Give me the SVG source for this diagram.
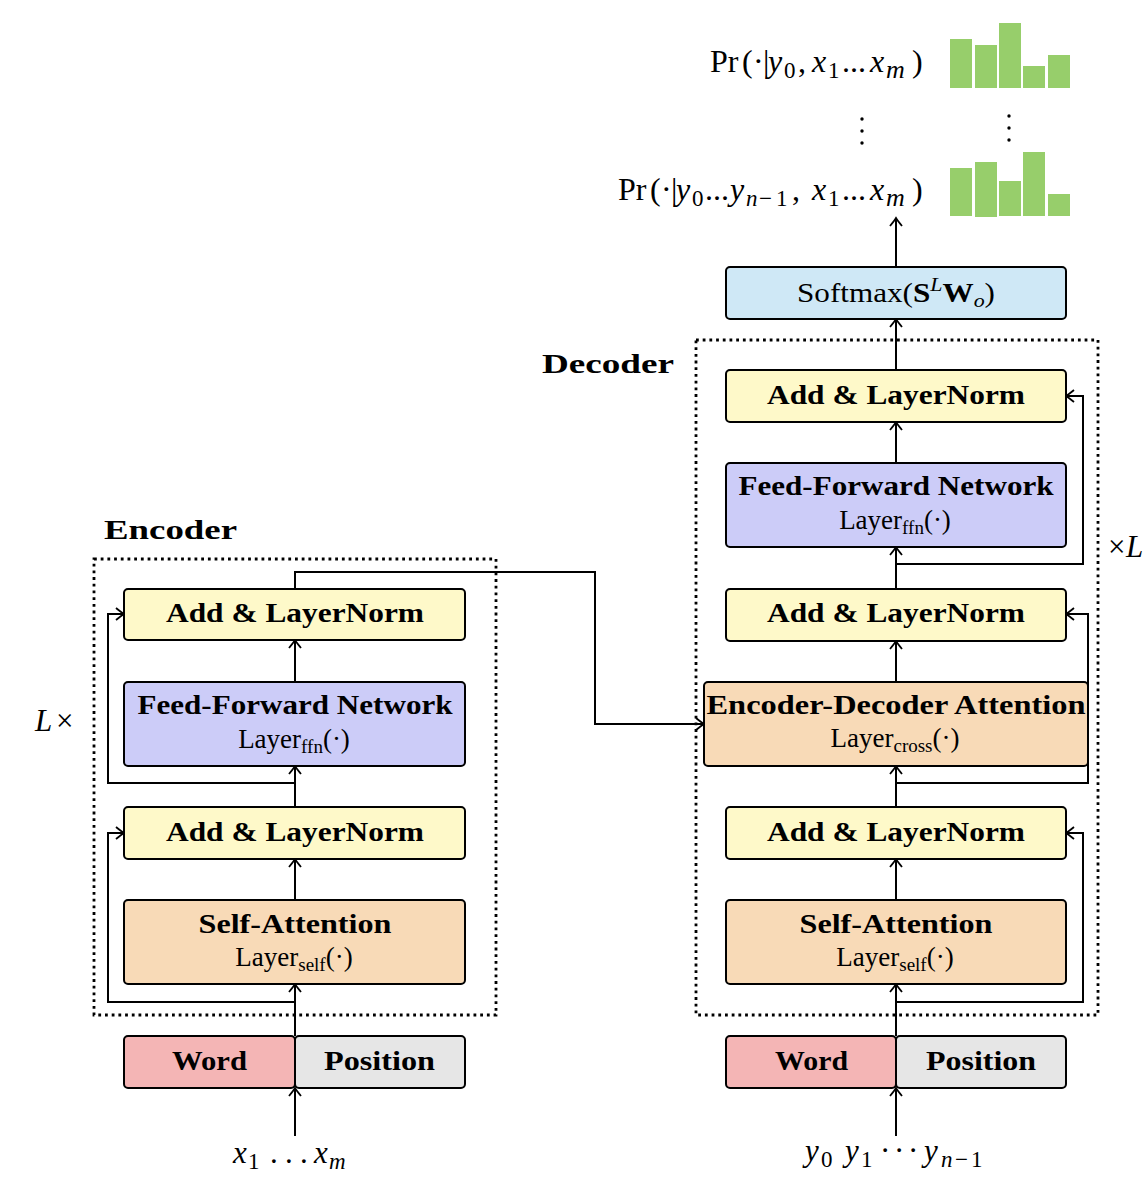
<svg xmlns="http://www.w3.org/2000/svg" width="1148" height="1198" viewBox="0 0 1148 1198">
<style>
.bx{stroke:#000;stroke-width:2}
.ln{fill:#FEF9C9}
.ffn{fill:#CCCCF8}
.att{fill:#F8DAB7}
.sm{fill:#CFE8F6}
.wd{fill:#F4B5B5}
.ps{fill:#E6E6E6}
.bar{fill:#97CE6B}
.c{fill:none;stroke:#000;stroke-width:2}
.a{marker-end:url(#ah)}
.dt{fill:none;stroke:#000;stroke-width:2.8;stroke-dasharray:2.8 3.9}
text{font-family:"Liberation Serif","DejaVu Serif",serif;fill:#000}
.b{font-weight:bold;font-size:27px;text-anchor:middle}
.r{font-size:27px;text-anchor:middle}
.m{font-size:32px}
.mi{font-size:31px}
.i{font-style:italic}
.s{font-size:23px}
.sm2{font-size:26px}
.ss{font-size:19px}
.lbl{font-weight:bold;font-size:27px}
</style>
<defs>
<marker id="ah" viewBox="-9 -7 11 14" refX="0" refY="0" markerWidth="11" markerHeight="14" markerUnits="userSpaceOnUse" orient="auto">
<path d="M-8,-6 Q-2.5,-1.5 0,0 Q-2.5,1.5 -8,6" fill="none" stroke="#000" stroke-width="1.8"/>
</marker>
</defs>

<!-- containers -->
<g id="encoder-frame">
<rect class="dt" x="94" y="559" width="402" height="456"/>
<text class="lbl" x="104" y="539" textLength="133" lengthAdjust="spacingAndGlyphs">Encoder</text>
<text class="mi" y="731"><tspan class="i" x="35">L</tspan><tspan x="56">×</tspan></text>
</g>
<g id="decoder-frame">
<rect class="dt" x="696" y="340" width="402" height="675"/>
<text class="lbl" x="542" y="373" textLength="132" lengthAdjust="spacingAndGlyphs">Decoder</text>
<text class="mi" y="557"><tspan x="1108">×</tspan><tspan class="i" x="1126">L</tspan></text>
</g>

<!-- connectors -->
<g id="connectors">
<path class="c a" d="M295,1136 V1088"/>
<path class="c a" d="M295,1036 V984"/>
<path class="c a" d="M295,1002 H108 V833 H124"/>
<path class="c a" d="M295,900 V859"/>
<path class="c a" d="M295,807 V766"/>
<path class="c a" d="M295,783 H108 V614 H124"/>
<path class="c a" d="M295,682 V640"/>
<path class="c a" d="M295,589 V572 H595 V724 H704"/>

<path class="c a" d="M896,1136 V1088"/>
<path class="c a" d="M896,1036 V984"/>
<path class="c a" d="M896,1002 H1083 V833 H1066"/>
<path class="c a" d="M896,900 V859"/>
<path class="c a" d="M896,807 V766"/>
<path class="c a" d="M896,783 H1088 V614 H1066"/>
<path class="c a" d="M896,682 V641"/>
<path class="c a" d="M896,589 V547"/>
<path class="c a" d="M896,564 H1083 V396 H1066"/>
<path class="c a" d="M896,463 V422"/>
<path class="c a" d="M896,370 V319"/>
<path class="c a" d="M896,267 V218"/>
</g>

<!-- encoder nodes -->
<g id="enc-addnorm-2">
<rect class="bx ln" x="124" y="589" width="341" height="51" rx="4"/>
<text class="b" x="295" y="622" textLength="258" lengthAdjust="spacingAndGlyphs">Add &amp; LayerNorm</text>
</g>
<g id="enc-ffn">
<rect class="bx ffn" x="124" y="682" width="341" height="84" rx="4"/>
<text class="b" x="295" y="714" textLength="315" lengthAdjust="spacingAndGlyphs">Feed-Forward Network</text>
<text class="r" x="294" y="748">Layer<tspan class="ss" dy="5">ffn</tspan><tspan dy="-5">(·)</tspan></text>
</g>
<g id="enc-addnorm-1">
<rect class="bx ln" x="124" y="807" width="341" height="52" rx="4"/>
<text class="b" x="295" y="841" textLength="258" lengthAdjust="spacingAndGlyphs">Add &amp; LayerNorm</text>
</g>
<g id="enc-self-attention">
<rect class="bx att" x="124" y="900" width="341" height="84" rx="4"/>
<text class="b" x="295" y="933" textLength="193" lengthAdjust="spacingAndGlyphs">Self-Attention</text>
<text class="r" x="294" y="966">Layer<tspan class="ss" dy="5">self</tspan><tspan dy="-5">(·)</tspan></text>
</g>
<g id="enc-embedding">
<rect class="bx wd" x="124" y="1036" width="171" height="52" rx="4"/>
<rect class="bx ps" x="295" y="1036" width="170" height="52" rx="4"/>
<text class="b" x="209.5" y="1070" textLength="75" lengthAdjust="spacingAndGlyphs">Word</text>
<text class="b" x="379.5" y="1070" textLength="111" lengthAdjust="spacingAndGlyphs">Position</text>
</g>
<g id="enc-input">
<text class="mi" y="1163"><tspan class="i" x="233">x</tspan><tspan class="s" x="248" dy="6">1</tspan><tspan x="270 285 300" dy="-6">...</tspan><tspan class="i" x="314">x</tspan><tspan class="s i" x="329" dy="6">m</tspan></text>
</g>

<!-- decoder nodes -->
<g id="dec-softmax">
<rect class="bx sm" x="726" y="267" width="340" height="52" rx="4"/>
<text class="r" x="896" y="302" textLength="198" lengthAdjust="spacingAndGlyphs">Softmax(<tspan font-weight="bold">S</tspan><tspan class="ss i" dy="-11">L</tspan><tspan font-weight="bold" dy="11">W</tspan><tspan class="ss i" dy="5">o</tspan><tspan dy="-5">)</tspan></text>
</g>
<g id="dec-addnorm-3">
<rect class="bx ln" x="726" y="370" width="340" height="52" rx="4"/>
<text class="b" x="896" y="404" textLength="258" lengthAdjust="spacingAndGlyphs">Add &amp; LayerNorm</text>
</g>
<g id="dec-ffn">
<rect class="bx ffn" x="726" y="463" width="340" height="84" rx="4"/>
<text class="b" x="896" y="495" textLength="315" lengthAdjust="spacingAndGlyphs">Feed-Forward Network</text>
<text class="r" x="895" y="529">Layer<tspan class="ss" dy="5">ffn</tspan><tspan dy="-5">(·)</tspan></text>
</g>
<g id="dec-addnorm-2">
<rect class="bx ln" x="726" y="589" width="340" height="52" rx="4"/>
<text class="b" x="896" y="622" textLength="258" lengthAdjust="spacingAndGlyphs">Add &amp; LayerNorm</text>
</g>
<g id="dec-cross-attention">
<rect class="bx att" x="704" y="682" width="384" height="84" rx="4"/>
<text class="b" x="896" y="714" textLength="379" lengthAdjust="spacingAndGlyphs">Encoder-Decoder Attention</text>
<text class="r" x="895" y="747">Layer<tspan class="ss" dy="5">cross</tspan><tspan dy="-5">(·)</tspan></text>
</g>
<g id="dec-addnorm-1">
<rect class="bx ln" x="726" y="807" width="340" height="52" rx="4"/>
<text class="b" x="896" y="841" textLength="258" lengthAdjust="spacingAndGlyphs">Add &amp; LayerNorm</text>
</g>
<g id="dec-self-attention">
<rect class="bx att" x="726" y="900" width="340" height="84" rx="4"/>
<text class="b" x="896" y="933" textLength="193" lengthAdjust="spacingAndGlyphs">Self-Attention</text>
<text class="r" x="895" y="966">Layer<tspan class="ss" dy="5">self</tspan><tspan dy="-5">(·)</tspan></text>
</g>
<g id="dec-embedding">
<rect class="bx wd" x="726" y="1036" width="170" height="52" rx="4"/>
<rect class="bx ps" x="896" y="1036" width="170" height="52" rx="4"/>
<text class="b" x="811.5" y="1070" textLength="73" lengthAdjust="spacingAndGlyphs">Word</text>
<text class="b" x="981" y="1070" textLength="110" lengthAdjust="spacingAndGlyphs">Position</text>
</g>
<g id="dec-input">
<text class="mi" y="1161"><tspan class="i" x="805">y</tspan><tspan class="s" x="821" dy="6">0</tspan><tspan class="i" x="845" dy="-6">y</tspan><tspan class="s" x="861" dy="6">1</tspan><tspan x="880 894 908" dy="-6">···</tspan><tspan class="i" x="924">y</tspan><tspan class="s i" x="941" dy="6">n</tspan><tspan class="s" x="955">−</tspan><tspan class="s" x="971">1</tspan></text>
</g>

<!-- output distributions -->
<g id="output-first">
<text class="m" y="72"><tspan x="710">Pr</tspan><tspan x="742">(</tspan><tspan x="753">·</tspan><tspan x="763">|</tspan><tspan class="i" x="768">y</tspan><tspan class="s" x="784" dy="6">0</tspan><tspan x="798" dy="-6">,</tspan><tspan class="i" x="812">x</tspan><tspan class="s" x="828" dy="6">1</tspan><tspan x="842" dy="-6">...</tspan><tspan class="i" x="870">x</tspan><tspan class="sm2 i" x="886" dy="6">m</tspan><tspan x="912" dy="-6">)</tspan></text>
<rect class="bar" x="950" y="39" width="22" height="49"/>
<rect class="bar" x="975" y="45" width="22" height="43"/>
<rect class="bar" x="999" y="23" width="22" height="65"/>
<rect class="bar" x="1023" y="66" width="22" height="22"/>
<rect class="bar" x="1048" y="55" width="22" height="33"/>
</g>
<g id="output-ellipsis">
<circle cx="862" cy="119" r="1.7"/>
<circle cx="862" cy="131" r="1.7"/>
<circle cx="862" cy="143" r="1.7"/>
<circle cx="1009" cy="116" r="1.7"/>
<circle cx="1009" cy="128" r="1.7"/>
<circle cx="1009" cy="140" r="1.7"/>
</g>
<g id="output-last">
<text class="m" y="200"><tspan x="618">Pr</tspan><tspan x="650">(</tspan><tspan x="661">·</tspan><tspan x="671">|</tspan><tspan class="i" x="676">y</tspan><tspan class="s" x="692" dy="6">0</tspan><tspan x="705" dy="-6">...</tspan><tspan class="i" x="730">y</tspan><tspan class="s i" x="746" dy="6">n</tspan><tspan class="s" x="759">−</tspan><tspan class="s" x="776">1</tspan><tspan x="792" dy="-6">,</tspan><tspan class="i" x="812">x</tspan><tspan class="s" x="828" dy="6">1</tspan><tspan x="842" dy="-6">...</tspan><tspan class="i" x="870">x</tspan><tspan class="sm2 i" x="886" dy="6">m</tspan><tspan x="912" dy="-6">)</tspan></text>
<rect class="bar" x="950" y="168" width="22" height="48"/>
<rect class="bar" x="975" y="162" width="22" height="55"/>
<rect class="bar" x="999" y="181" width="22" height="35"/>
<rect class="bar" x="1023" y="152" width="22" height="64"/>
<rect class="bar" x="1048" y="194" width="22" height="22"/>
</g>
</svg>
